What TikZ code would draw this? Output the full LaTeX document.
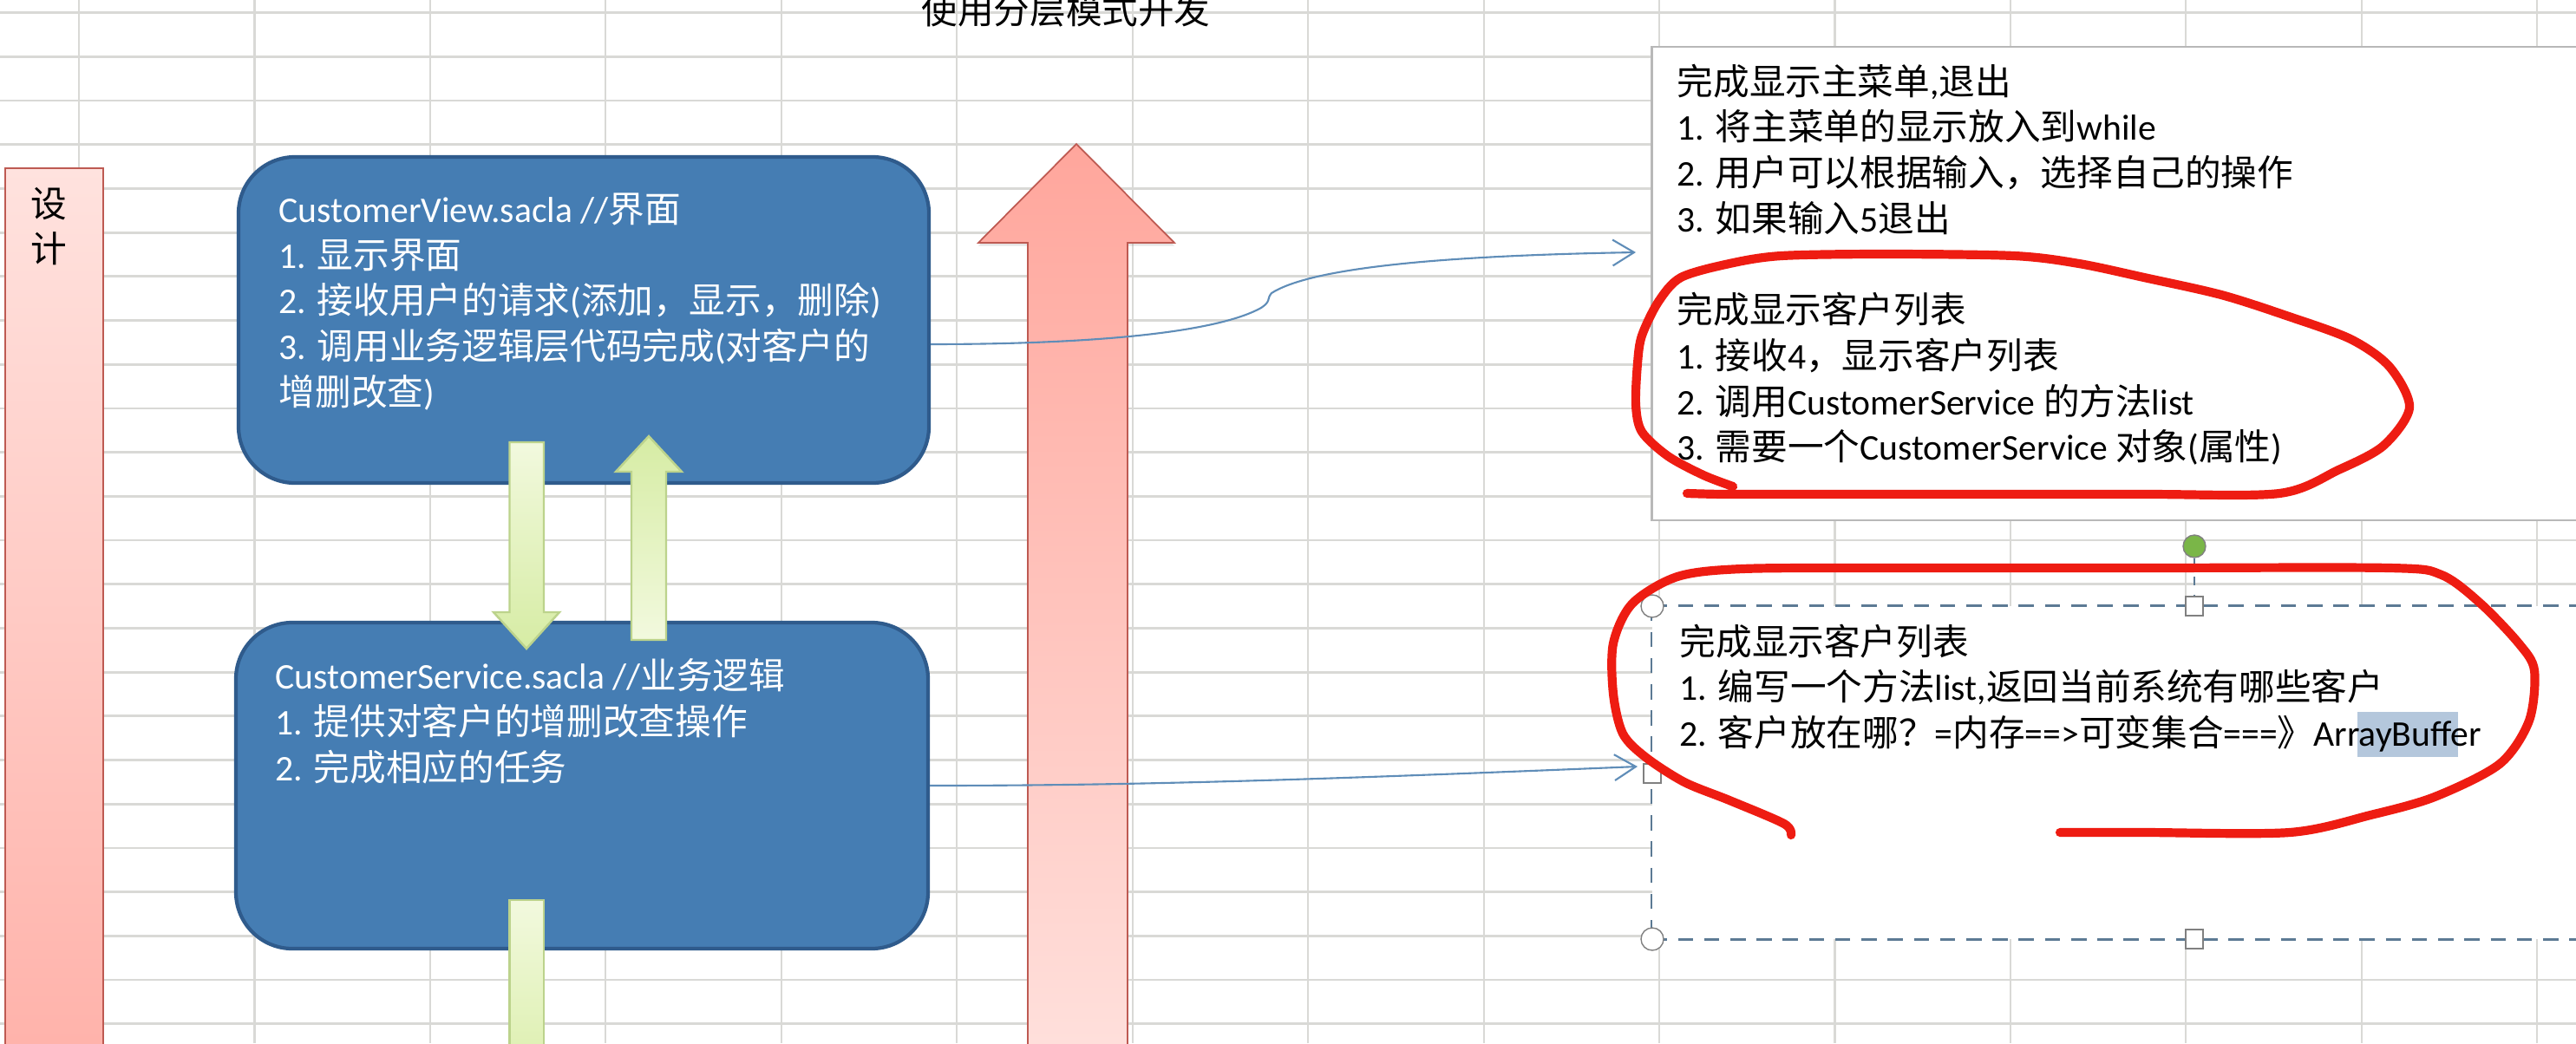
\documentclass[tikz,border=0pt]{standalone}
\usepackage{fontspec}
\setmainfont{Carlito}
\newfontfamily\cjk{Noto Sans CJK SC}
\newcommand{\zh}[1]{{\cjk #1}}
\usetikzlibrary{arrows.meta,shadows}
\definecolor{gridline}{HTML}{D9D9D6}
\definecolor{boxblue}{HTML}{457DB3}
\definecolor{boxedge}{HTML}{2F5B8C}
\definecolor{linkblue}{HTML}{5F8DB8}
\definecolor{markred}{HTML}{EE1C12}
\definecolor{rededge}{HTML}{BE5A52}
\definecolor{greenedge}{HTML}{BCD38C}
\definecolor{selectedge}{HTML}{5C7A94}
\definecolor{marked}{HTML}{B4C7DC}
\tikzset{
    every node/.style={font=\fontsize{11.85}{15}\selectfont},
    flowbox/.style={draw=boxedge, line width=1.2pt, fill=boxblue, rounded corners=0.65cm},
    boxtext/.style={text=white, align=left, inner sep=0pt, anchor=north west},
    notetext/.style={text=black, align=left, inner sep=0pt, anchor=north west},
    notebox/.style={draw=black!28, line width=0.7pt, fill=white, minimum width=12cm},
    link/.style={draw=linkblue, line width=0.6pt, -{Straight Barb[length=7pt,width=8.5pt]}},
    redarrow/.style={draw=rededge, line width=0.5pt},
    greenarrow/.style={draw=greenedge, line width=0.7pt},
    scribble/.style={draw=markred, line width=2.9pt, line cap=round, line join=round},
    handle/.style={draw=black!50, fill=white, line width=0.4pt}
}
\begin{document}
\begin{tikzpicture}
    \useasboundingbox (0,0) rectangle (29.7,-12.03);
    \fill[white] (0,0) rectangle (29.7,-12.03);

    % sheet grid
    \foreach \k in {0,...,23}
        \draw[gridline, line width=0.8pt] (0,-0.146-0.507*\k) -- (29.7,-0.146-0.507*\k);
    \foreach \k in {0,...,14}
        \draw[gridline, line width=0.6pt] (0.91+2.0245*\k,0) -- (0.91+2.0245*\k,-12.03);

    % left bar
    \node[draw=rededge, line width=0.5pt, shading=axis,
        top color={rgb,255:red,255;green,226;blue,222}, bottom color={rgb,255:red,255;green,178;blue,170},
        minimum width=1.13cm, minimum height=10.3cm, inner sep=0pt] (designbar) at (0.625,-7.09) {};
    \node[inner sep=0pt, align=center] (designtext) at (0.56,-2.61) {\zh{设}\\\zh{计}};

    % big arrow
    \draw[redarrow, drop shadow={opacity=0.2, shadow xshift=0pt, shadow yshift=-1pt},
        top color={rgb,255:red,255;green,166;blue,156}, bottom color={rgb,255:red,255;green,224;blue,220}]
        (12.41,-1.66) -- (13.54,-2.8) -- (13.0,-2.8) -- (13.0,-12.2)
        -- (11.85,-12.2) -- (11.85,-2.8) -- (11.28,-2.8) -- cycle;

    % title
    \node[inner sep=0pt] (title) at (12.29,-0.12) {\zh{使用分层模式开发}};

    % blue boxes
    \node[flowbox, minimum width=7.96cm, minimum height=3.76cm] (viewbox) at (6.73,-3.69) {};
    \node[flowbox, minimum width=7.98cm, minimum height=3.76cm] (servicebox) at (6.71,-9.06) {};
    \node[boxtext] (viewtext) at (3.21,-2.22) {CustomerView.sacla //\zh{界面}\\
        1. \zh{显示界面}\\
        2. \zh{接收用户的请求}(\zh{添加，显示，删除})\\
        3. \zh{调用业务逻辑层代码完成}(\zh{对客户的}\\
        \zh{增删改查})};
    \node[boxtext] (servicetext) at (3.17,-7.59) {CustomerService.sacla //\zh{业务逻辑}\\
        1. \zh{提供对客户的增删改查操作}\\
        2. \zh{完成相应的任务}};

    % green arrows
    \draw[greenarrow, top color={rgb,255:red,242;green,249;blue,222}, bottom color={rgb,255:red,214;green,236;blue,164}]
        (5.875,-5.1) -- (6.27,-5.1) -- (6.27,-7.06) -- (6.45,-7.06) -- (6.07,-7.48)
        -- (5.69,-7.06) -- (5.875,-7.06) -- cycle;
    \draw[greenarrow, top color={rgb,255:red,214;green,236;blue,164}, bottom color={rgb,255:red,242;green,249;blue,222}]
        (7.48,-5.03) -- (7.86,-5.44) -- (7.68,-5.44) -- (7.68,-7.38) -- (7.28,-7.38)
        -- (7.28,-5.44) -- (7.1,-5.44) -- cycle;
    \draw[greenarrow, top color={rgb,255:red,242;green,249;blue,222}, bottom color={rgb,255:red,222;green,240;blue,178}]
        (5.875,-10.38) -- (6.27,-10.38) -- (6.27,-12.2) -- (5.875,-12.2) -- cycle;

    % note boxes
    \node[notebox, minimum height=5.46cm] (menubox) at (25.045,-3.27) {};
    \node[notetext] (menutext) at (19.33,-0.73) {\zh{完成显示主菜单},\zh{退出}\\
        1. \zh{将主菜单的显示放入到}while\\
        2. \zh{用户可以根据输入，选择自己的操作}\\
        3. \zh{如果输入}5\zh{退出}\\[15pt]
        \zh{完成显示客户列表}\\
        1. \zh{接收}4\zh{，显示客户列表}\\
        2. \zh{调用}CustomerService \zh{的方法}list\\
        3. \zh{需要一个}CustomerService \zh{对象}(\zh{属性})};

    \node[fill=white, minimum width=12cm, minimum height=3.84cm, inner sep=0pt] (listbox) at (25.05,-8.91) {};
    \draw[selectedge, line width=0.9pt, dash pattern=on 5pt off 3.6pt] (listbox.north west) -- (listbox.north east);
    \draw[selectedge, line width=0.9pt, dash pattern=on 5pt off 3.6pt] (listbox.south west) -- (listbox.south east);
    \draw[selectedge, line width=0.5pt, dash pattern=on 5pt off 3.6pt] (listbox.north west) -- (listbox.south west);
    \fill[marked] (27.18,-8.21) rectangle (28.34,-8.73);
    \node[notetext] (listtext) at (19.36,-7.19) {\zh{完成显示客户列表}\\
        1. \zh{编写一个方法}list,\zh{返回当前系统有哪些客户}\\
        2. \zh{客户放在哪？}=\zh{内存}==>\zh{可变集合}===\zh{》}ArrayBuffer};

    % selection handles
    \node[circle, draw=black!50, fill={rgb,255:red,122;green,182;blue,72}, minimum size=0.26cm, inner sep=0pt] (rotor) at (25.3,-6.3) {};
    \node[handle, minimum width=0.2cm, minimum height=0.22cm, inner sep=0pt] (topgrip) at (25.3,-6.99) {};
    \node[handle, minimum width=0.2cm, minimum height=0.22cm, inner sep=0pt] (bottomgrip) at (25.3,-10.83) {};
    \node[handle, minimum width=0.2cm, minimum height=0.22cm, inner sep=0pt] (leftgrip) at (19.05,-8.92) {};
    \node[handle, circle, minimum size=0.26cm, inner sep=0pt] (cornertop) at (19.05,-6.99) {};
    \node[handle, circle, minimum size=0.26cm, inner sep=0pt] (cornerbottom) at (19.05,-10.83) {};
    \draw[selectedge, line width=0.5pt, dashed] (rotor) -- (topgrip);

    % links
    \coordinate (menuend) at (18.86,-2.91);
    \coordinate (listend) at (18.88,-8.84);
    \draw[link] (viewbox.-4.6) .. controls (12.5,-3.97) and (14,-3.85) .. (14.54,-3.55)
        .. controls (14.66,-3.47) and (14.6,-3.45) .. (14.66,-3.38)
        .. controls (15.1,-3.1) and (16.5,-2.95) .. (menuend);
    \draw[link] (servicebox.east) .. controls (13,-9.06) and (15,-9.0) .. (listend);

    % red marks
    \draw[scribble] plot[smooth, tension=0.5] coordinates {(19.98,-5.61) (19.64,-5.48) (19.23,-5.26) (18.93,-4.98)
        (18.86,-4.67) (18.88,-4.19) (18.93,-3.87) (19.12,-3.48) (19.38,-3.2) (19.94,-3.04) (20.54,-2.95)
        (21.73,-2.93) (23.22,-2.95) (23.97,-3.04) (24.72,-3.2) (25.61,-3.4) (26.36,-3.64) (27.1,-3.91)
        (27.55,-4.23) (27.78,-4.7) (27.48,-5.14) (26.96,-5.42) (26.28,-5.69) (24.72,-5.7) (22.48,-5.7)
        (20.61,-5.7) (19.87,-5.7) (19.45,-5.69)};
    \draw[scribble] plot[smooth, tension=0.5] coordinates {(20.65,-9.63) (20.57,-9.5) (19.94,-9.23) (19.42,-9.02)
        (18.97,-8.73) (18.71,-8.46) (18.6,-8.0) (18.6,-7.42) (18.82,-6.96) (19.34,-6.65) (20.09,-6.56)
        (21.73,-6.55) (24.72,-6.55) (27.55,-6.55) (28.15,-6.63) (28.6,-6.96) (29.04,-7.42) (29.22,-7.73)
        (29.16,-8.31) (28.82,-8.81) (28.07,-9.19) (27.33,-9.4) (26.4,-9.6) (24.72,-9.6) (23.75,-9.6)};
\end{tikzpicture}
\end{document}
